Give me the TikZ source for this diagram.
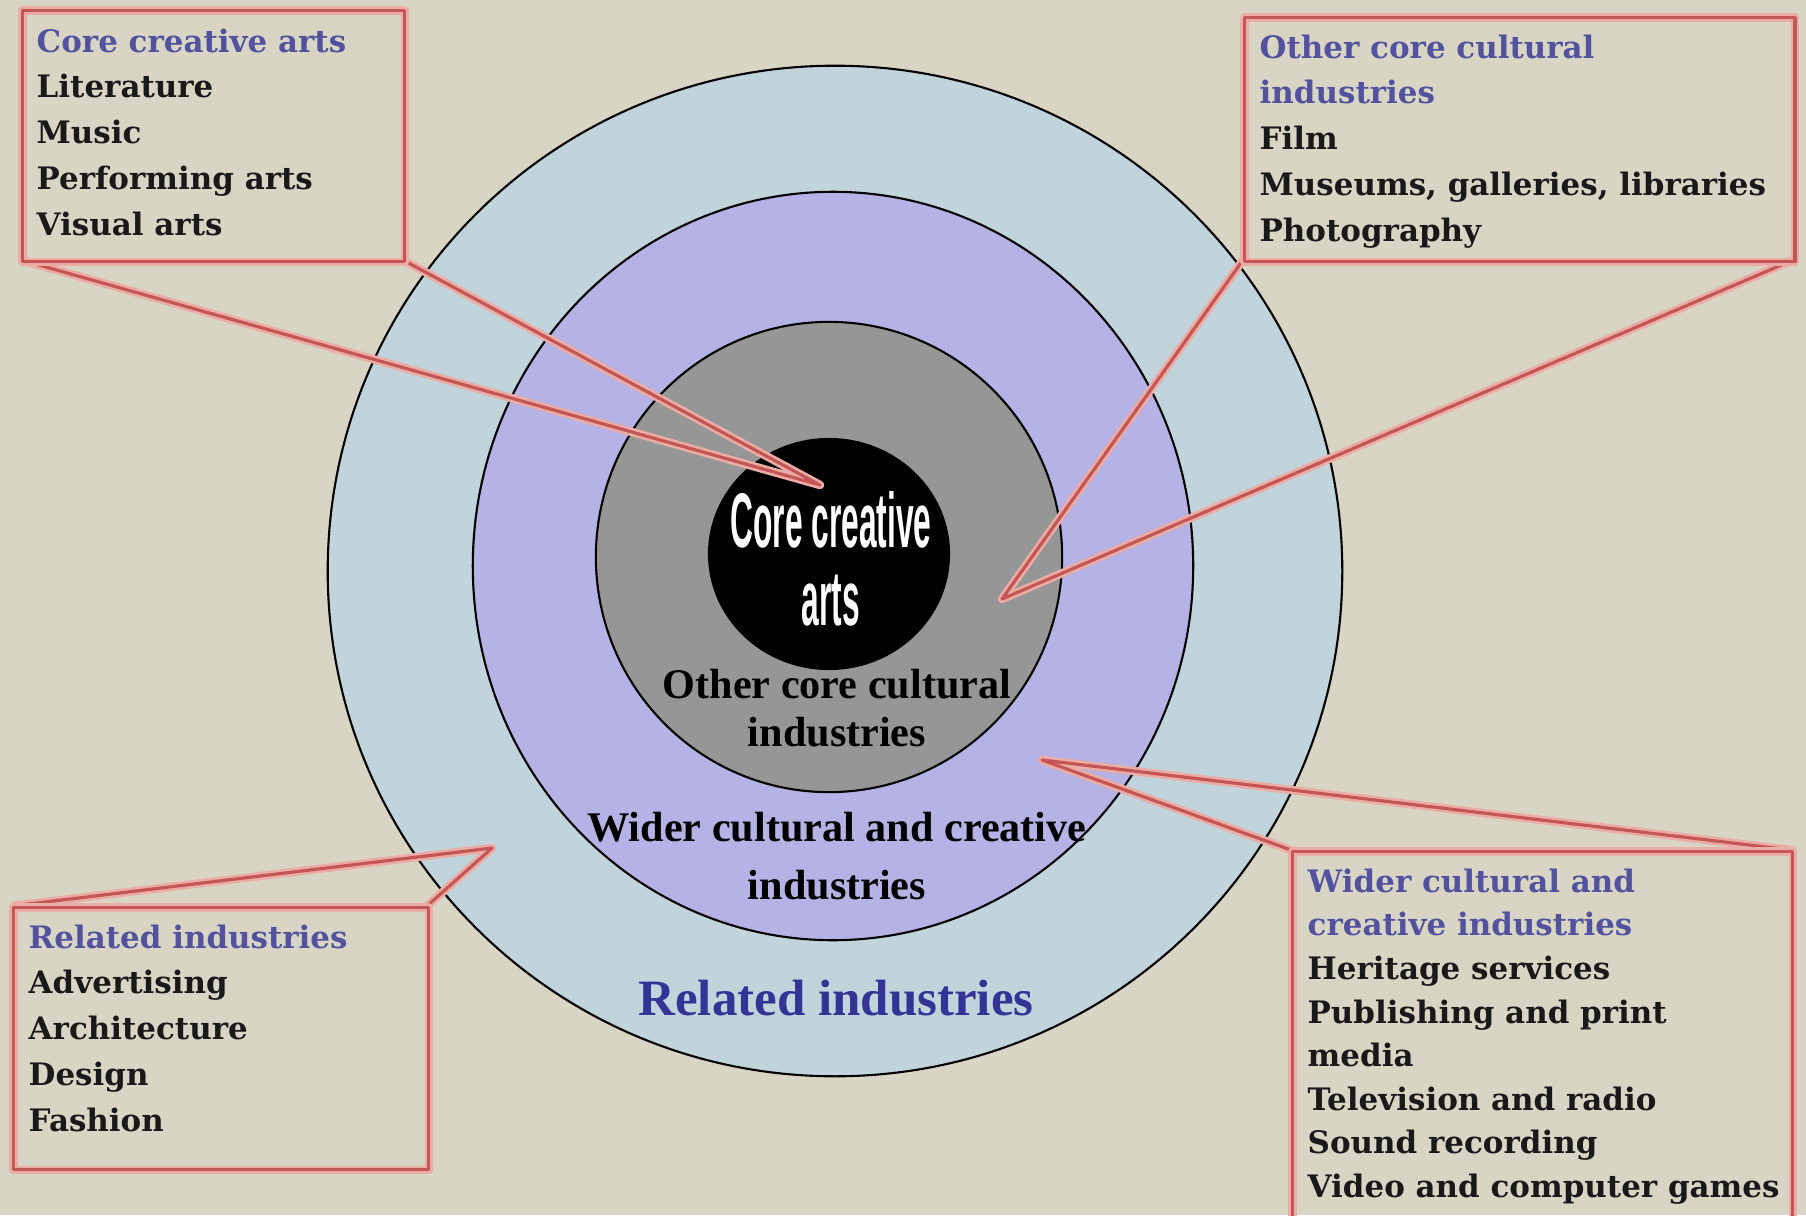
\documentclass[tikz,border=0pt]{standalone}
\usepackage{fontspec}
\setmainfont{DejaVu Serif}
\newfontfamily\ringfont{Liberation Serif}
\newfontfamily\narrowfont[FakeStretch=0.41]{Liberation Sans}
\usepackage{tikz}
\usetikzlibrary{positioning}
\definecolor{ccbg}{RGB}{217,213,196}
\definecolor{ccring}{RGB}{193,212,219}
\definecolor{ccpurple}{RGB}{181,178,229}
\definecolor{ccgray}{RGB}{150,150,150}
\definecolor{ccred}{RGB}{196,86,86}
\definecolor{ccglow}{RGB}{236,172,166}
\definecolor{cctitle}{RGB}{82,82,158}
\definecolor{ccblue}{RGB}{52,52,150}
\tikzstyle{calloutline} = [draw=ccred, line width=0.9pt, line join=round, preaction={draw=ccglow, line width=2.4pt, line join=round}]
\tikzstyle{callbox} = [rectangle, calloutline, anchor=north west, inner sep=0pt]
\tikzstyle{listtext} = [anchor=north west, align=left, inner sep=0pt, text=black!90, font=\fontsize{8.8}{13}\selectfont\bfseries]
\tikzstyle{ringline} = [draw=black, line width=0.6pt]
\tikzstyle{ringlabel} = [align=center, text=black, font=\ringfont\bfseries\fontsize{12}{14}\selectfont]

\begin{document}
\begin{tikzpicture}[x=0.01cm, y=-0.01cm]
\useasboundingbox (0,0) rectangle (1806,1215);
\fill[ccbg] (0,0) rectangle (1806,1215);

% Rings
\draw[ringline, fill=ccring] (835,571) ellipse [x radius=5.07cm, y radius=5.05cm];
\draw[ringline, fill=ccpurple] (833,566) ellipse [x radius=3.60cm, y radius=3.74cm];
\draw[ringline, fill=ccgray] (829,557) ellipse [x radius=2.33cm, y radius=2.35cm];
\fill[black] (829,554) ellipse [x radius=1.21cm, y radius=1.16cm];

\node[text=white, align=center, font=\narrowfont\bfseries\fontsize{22}{22}\selectfont] (corelabel) at (831,559) {Core creative\\arts};
\node[ringlabel] (otherlabel) at (837,708) {Other core cultural\\[-0.5pt]industries};
\node[ringlabel] (widerlabel) at (837,856) {Wider cultural and creative\\[2.5pt]industries};
\node[text=ccblue, font=\ringfont\bfseries\fontsize{14.5}{17}\selectfont] (relatedlabel) at (836,998) {Related industries};

% Callouts
\coordinate (artstip) at (820,485);
\coordinate (othertip) at (1002,599);
\coordinate (relatedtip) at (492,848);
\coordinate (widertip) at (1042,760);

\draw[calloutline] (21,260) coordinate (artssw) -- (artstip) -- (403,260) coordinate (artsse);
\draw[calloutline] (1243,260) coordinate (othersw) -- (othertip) -- (1793,260) coordinate (otherse);
\draw[calloutline] (12,906) coordinate (relatednw) -- (relatedtip) -- (427,906) coordinate (relatedne);
\draw[calloutline] (1291,850) coordinate (widernw) -- (widertip) -- (1791,850) coordinate (widerne);

\node[callbox, minimum width=3.82cm, minimum height=2.51cm] (artsbox) at (21,9) {};
\node[callbox, minimum width=5.50cm, minimum height=2.44cm] (otherbox) at (1243,16) {};
\node[callbox, minimum width=4.15cm, minimum height=2.62cm] (relatedbox) at (12,906) {};
\node[callbox, minimum width=5.00cm, minimum height=3.72cm] (widerbox) at (1291,850) {};

\node[listtext] (artslist) at (36,28) {\textcolor{cctitle}{Core creative arts}\\Literature\\Music\\Performing arts\\Visual arts};
\node[listtext] (otherlist) at (1259,34) {\textcolor{cctitle}{Other core cultural}\\\textcolor{cctitle}{industries}\\Film\\Museums, galleries, libraries\\Photography};
\node[listtext] (relatedlist) at (28,924) {\textcolor{cctitle}{Related industries}\\Advertising\\Architecture\\Design\\Fashion};
\node[listtext, font=\fontsize{8.8}{12.4}\selectfont\bfseries] (widerlist) at (1307,868) {\textcolor{cctitle}{Wider cultural and}\\\textcolor{cctitle}{creative industries}\\Heritage services\\Publishing and print\\media\\Television and radio\\Sound recording\\Video and computer games};
\end{tikzpicture}
\end{document}
